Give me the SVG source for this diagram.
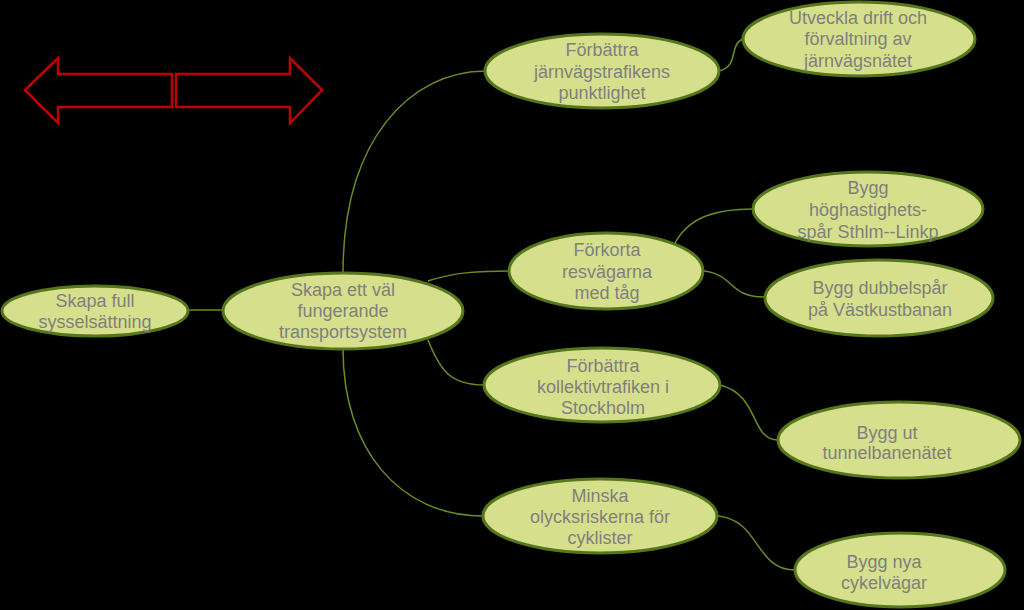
<svg xmlns="http://www.w3.org/2000/svg" width="1024" height="610" viewBox="0 0 1024 610">
<style>
.n ellipse{fill:#d5df8c;stroke:#56761a;stroke-width:3}
.n text{font-family:"Liberation Sans",Arial,sans-serif;font-size:18px;fill:#7f7f7f;text-anchor:middle}
.c path{fill:none;stroke:#6b8e23;stroke-width:1.5}
.arr{fill:none;stroke:#c00000;stroke-width:2.5;stroke-linejoin:miter}
</style>
<rect width="1024" height="610" fill="#000"/>
<g id="arrows">
<path class="arr" d="M25,90 L58,58 L58,74 L172,74 L172,107 L58,107 L58,123 Z"/>
<path class="arr" d="M322,90 L290,58 L290,74 L176,74 L176,107 L290,107 L290,123 Z"/>
</g>
<g class="c" id="connectors">
<path d="M188,310 L222,310"/>
<path d="M343,273 C343,140 410,71 486,71"/>
<path d="M428,281 C455,272 480,271 510,271"/>
<path d="M428,340 C440,370 450,385 484,385"/>
<path d="M343,349 C343,450 400,516 483,516"/>
<path d="M719,71 C740,66 728,45 743,39"/>
<path d="M675,243 C690,215 720,209 753,209"/>
<path d="M704,271 C735,275 728,297 765,297"/>
<path d="M720,385 C760,395 750,440 778,440"/>
<path d="M718,516 C760,520 755,570 795,570"/>
</g>
<g class="n" id="n1"><ellipse cx="95" cy="311" rx="93" ry="25"/><text x="95" y="307">Skapa full</text><text x="95" y="328">sysselsättning</text></g>
<g class="n" id="n2"><ellipse cx="343" cy="311" rx="120" ry="38"/><text x="343" y="296">Skapa ett väl</text><text x="343" y="317">fungerande</text><text x="343" y="338">transportsystem</text></g>
<g class="n" id="n3"><ellipse cx="602" cy="71" rx="117" ry="37"/><text x="602" y="56">Förbättra</text><text x="602" y="78">järnvägstrafikens</text><text x="602" y="99">punktlighet</text></g>
<g class="n" id="n4"><ellipse cx="859" cy="39" rx="116" ry="37"/><text x="858" y="24">Utveckla drift och</text><text x="858" y="45">förvaltning av</text><text x="858" y="67">järnvägsnätet</text></g>
<g class="n" id="n5"><ellipse cx="606" cy="271" rx="97" ry="38"/><text x="607" y="256">Förkorta</text><text x="607" y="278">resvägarna</text><text x="607" y="299">med tåg</text></g>
<g class="n" id="n6"><ellipse cx="868" cy="209" rx="115" ry="37"/><text x="868" y="194">Bygg</text><text x="868" y="216">höghastighets-</text><text x="868" y="238">spår Sthlm--Linkp</text></g>
<g class="n" id="n7"><ellipse cx="879" cy="298" rx="114" ry="38"/><text x="880" y="294">Bygg dubbelspår</text><text x="880" y="316">på Västkustbanan</text></g>
<g class="n" id="n8"><ellipse cx="602" cy="385" rx="118" ry="37"/><text x="603" y="372">Förbättra</text><text x="603" y="393">kollektivtrafiken i</text><text x="603" y="414">Stockholm</text></g>
<g class="n" id="n9"><ellipse cx="899" cy="440" rx="121" ry="38"/><text x="887" y="439">Bygg ut</text><text x="887" y="459">tunnelbanenätet</text></g>
<g class="n" id="n10"><ellipse cx="600" cy="516" rx="117" ry="37"/><text x="600" y="502">Minska</text><text x="600" y="523">olycksriskerna för</text><text x="600" y="544">cyklister</text></g>
<g class="n" id="n11"><ellipse cx="900" cy="570" rx="105" ry="37"/><text x="884" y="568">Bygg nya</text><text x="884" y="589">cykelvägar</text></g>
</svg>
